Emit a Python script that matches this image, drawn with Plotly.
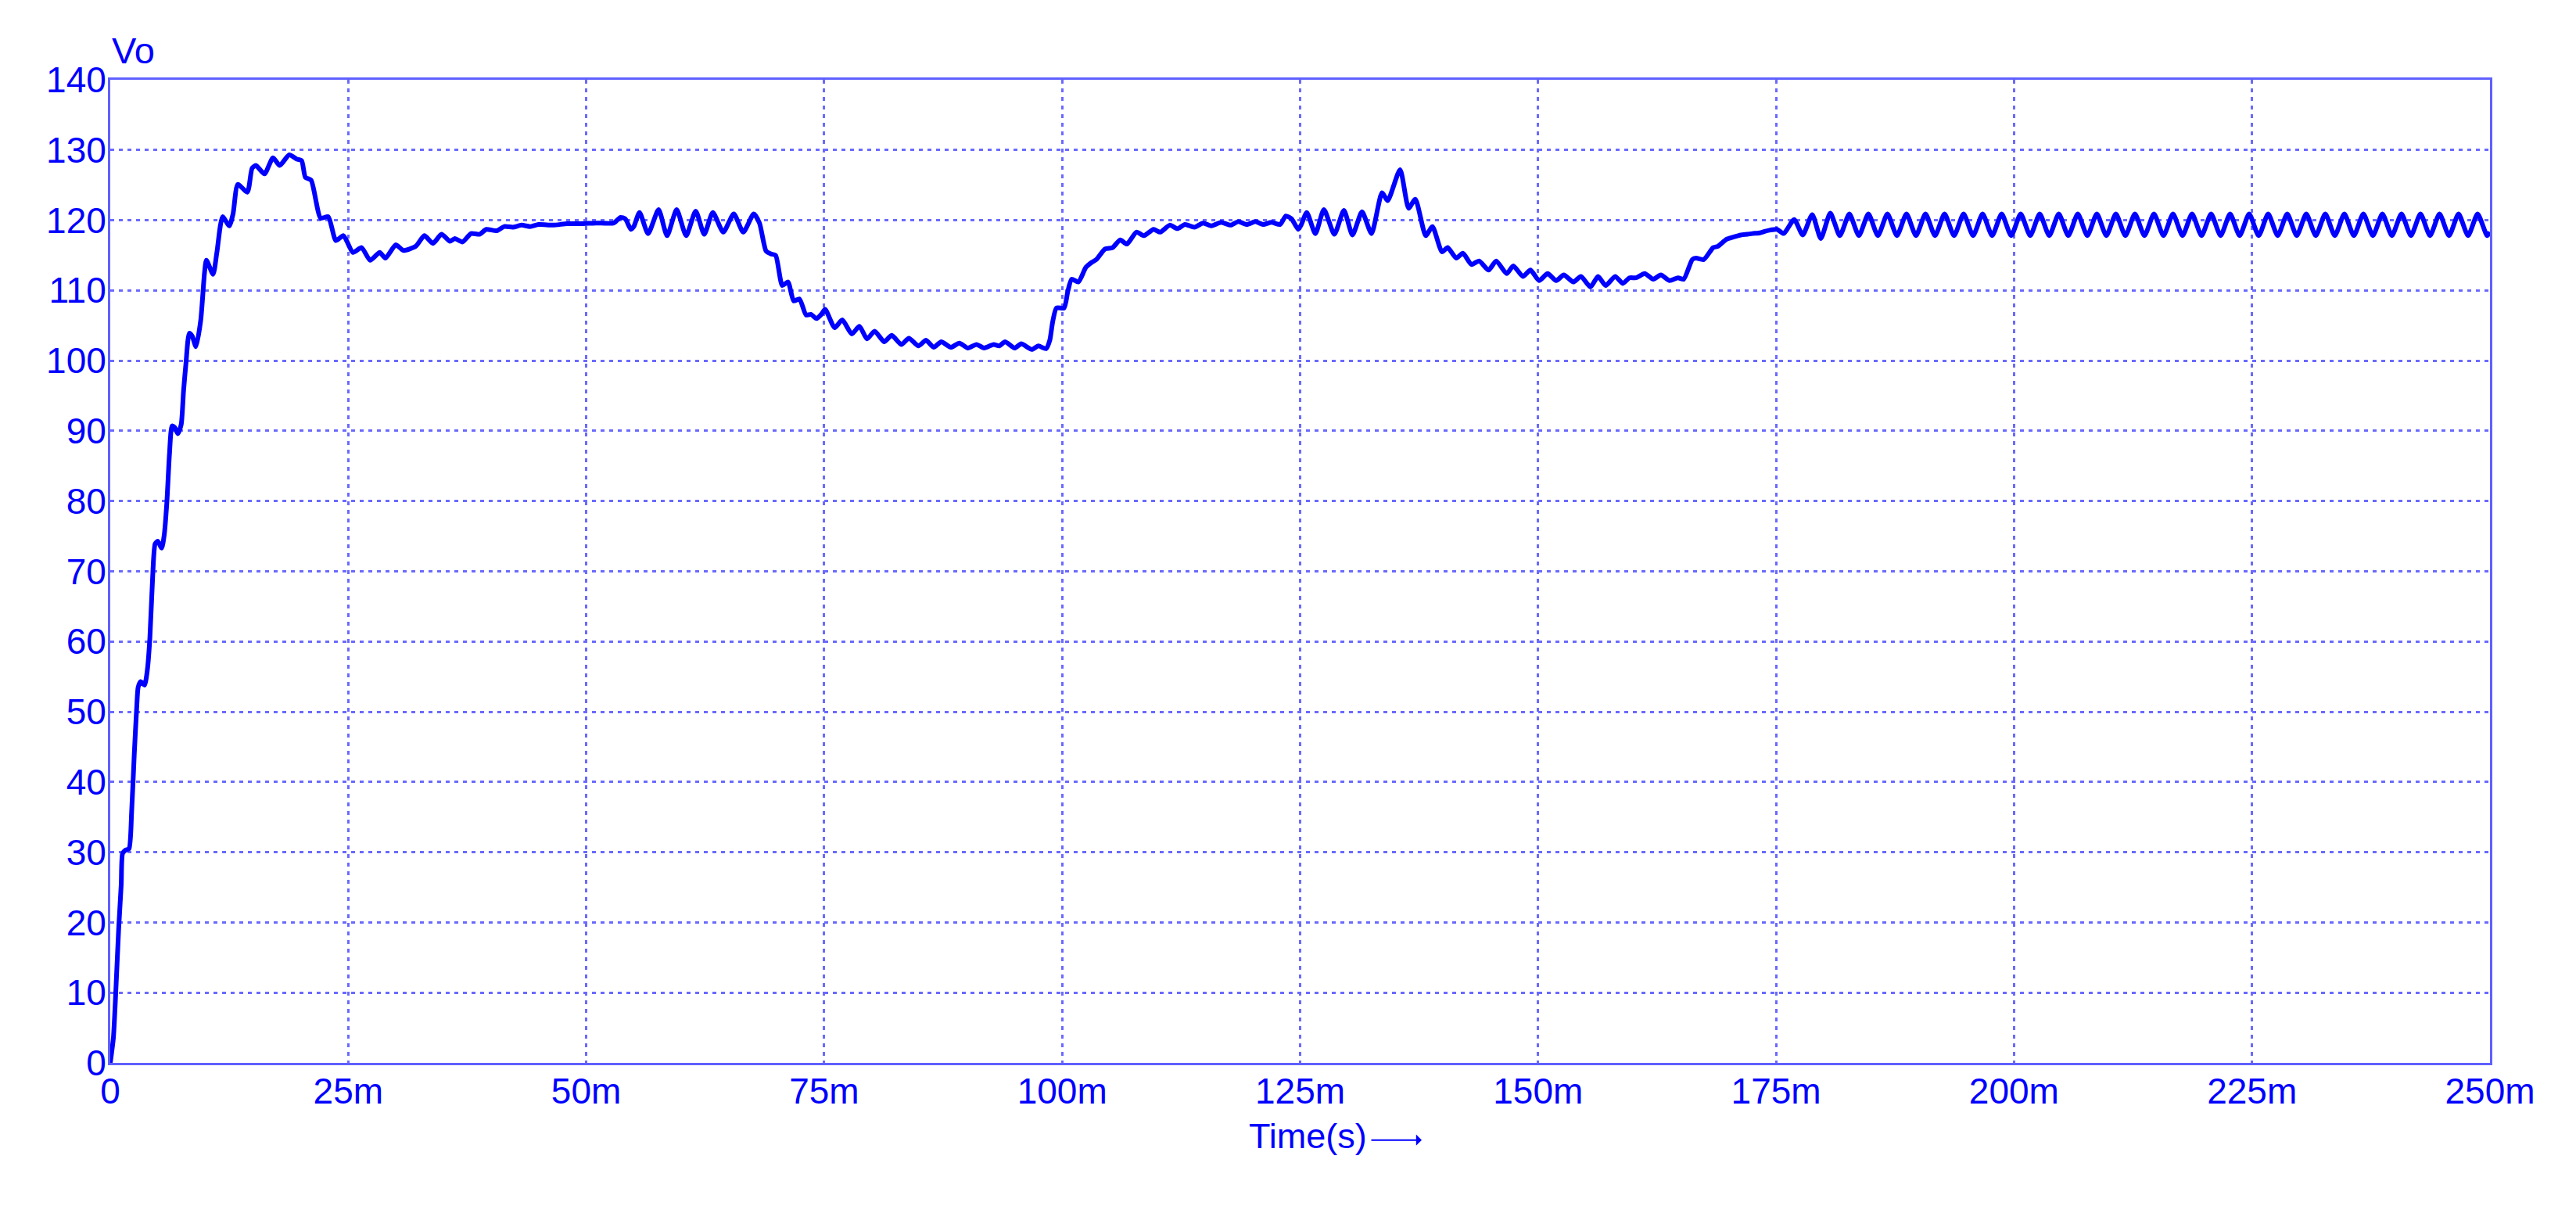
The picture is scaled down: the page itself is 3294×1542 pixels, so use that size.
import plotly.graph_objects as go

# Vo waveform, time in ms
t_ms = [0, 0.33, 0.6, 0.88, 1.15, 1.29, 1.6, 1.97, 2.24, 2.52, 2.79, 2.93, 3.2, 3.6, 3.9, 4.16, 4.44, 4.71, 4.99,
        5.4, 5.67, 5.94, 6.22, 6.49, 6.76, 7.1, 7.45, 7.7, 7.95, 8.3, 8.6, 9.0, 9.5, 9.9, 10.1, 10.8, 11.2, 11.8,
        12.5, 12.9, 13.4, 14.4, 14.9, 15.3, 16.2, 17.1, 17.8, 18.8, 19.6, 20.1, 20.5, 21.1, 22.1, 22.9, 23.7, 24.5,
        25.5, 26.4, 27.3, 28.3, 28.9, 30.0, 30.8, 32.1, 33.0, 33.9, 34.8, 35.7, 36.2, 37.0, 37.9, 38.8, 39.5, 40.6,
        41.4, 42.3, 43.2, 44.1, 45.0, 46.5, 48.0, 49.5, 51.0, 52.9, 53.6, 54.1, 54.7, 55.0, 55.6, 56.5, 57.6, 58.5,
        59.5, 60.5, 61.5, 62.4, 63.3, 64.4, 65.5, 66.5, 67.6, 68.2, 68.9, 69.4, 69.9, 70.6, 71.2, 71.8, 72.4, 73.1,
        73.6, 74.2, 74.7, 75.1, 76.1, 76.9, 77.9, 78.7, 79.5, 80.3, 81.3, 82.1, 83.1, 83.9, 84.9, 85.7, 86.5, 87.3,
        88.3, 89.2, 90.1, 91.0, 91.8, 92.8, 93.4, 94.0, 95.0, 95.7, 96.8, 97.5, 98.3, 98.7, 99.0, 99.4, 100.2,
        100.6, 101.0, 101.7, 102.5, 103.1, 103.6, 104.5, 105.3, 106.1, 106.8, 107.8, 108.6, 109.6, 110.3, 111.3,
        112.1, 112.9, 113.9, 114.8, 115.7, 116.7, 117.7, 118.5, 119.4, 120.3, 121.1, 122.0, 122.9, 123.5, 124.1,
        124.8, 125.1, 125.7, 126.6, 127.5, 128.6, 129.6, 130.5, 131.5, 132.5, 133.6, 134.2, 135.5, 136.4, 137.1,
        138.2, 138.9, 139.9, 140.5, 141.4, 142.1, 143.0, 143.8, 144.8, 145.6, 146.7, 147.4, 148.4, 149.2, 150.1,
        151.0, 151.9, 152.7, 153.7, 154.5, 155.5, 156.3, 157.1, 158.1, 158.9, 159.6, 160.3, 161.2, 162.1, 162.9,
        163.8, 164.7, 165.3, 166.2, 166.6, 167.4, 168.4, 168.9, 169.8, 170.5, 171.3, 172.0, 172.5, 173.3, 173.8,
        174.4, 175.1, 175.8, 176.9, 177.8, 178.8, 179.7,
        180.7, 181.7, 182.7, 183.7, 184.7, 185.7, 186.7, 187.7, 188.7, 189.7, 190.7, 191.7, 192.7, 193.7, 194.7,
        195.7, 196.7, 197.7, 198.7, 199.7, 200.7, 201.7, 202.7, 203.7, 204.7, 205.7, 206.7, 207.7, 208.7, 209.7,
        210.7, 211.7, 212.7, 213.7, 214.7, 215.7, 216.7, 217.7, 218.7, 219.7, 220.7, 221.7, 222.7, 223.7, 224.7,
        225.7, 226.7, 227.7, 228.7, 229.7, 230.7, 231.7, 232.7, 233.7, 234.7, 235.7, 236.7, 237.7, 238.7, 239.7,
        240.7, 241.7, 242.7, 243.7, 244.7, 245.7, 246.7, 247.7, 248.7, 249.7, 250.0]

vo = [0, 3.6, 10.7, 19.0, 25.4, 29.8, 30.3, 30.5, 35.6, 43.9, 50.9, 53.5, 54.3, 53.8, 56.0, 60.5, 68.8, 73.9, 74.3,
      73.3, 75.2, 79.7, 86.7, 90.7, 90.5, 89.6, 90.9, 95.7, 99.6, 103.9, 103.5, 102.0, 105.7, 112.5, 114.3, 112.3,
      115.4, 120.5, 119.2, 120.9, 125.1, 124.0, 127.4, 127.8, 126.6, 128.9, 127.8, 129.3, 128.7, 128.5, 126.1,
      125.7, 120.3, 120.5, 117.1, 117.8, 115.4, 116.1, 114.3, 115.4, 114.6, 116.5, 115.7, 116.3, 117.8, 116.7,
      118.0, 117.0, 117.4, 116.9, 118.1, 118.0, 118.7, 118.5, 119.1, 119.0, 119.3, 119.1, 119.4, 119.3, 119.5,
      119.5, 119.6, 119.6, 120.4, 120.2, 118.7, 119.1, 121.1, 118.1, 121.5, 117.8, 121.5, 117.8, 121.3, 118.0,
      121.1, 118.3, 120.9, 118.3, 120.9, 119.6, 115.6, 115.2, 115.0, 110.7, 111.2, 108.5, 108.8, 106.5, 106.6,
      106.0, 106.6, 107.3, 104.7, 105.8, 103.8, 104.9, 103.1, 104.2, 102.7, 103.6, 102.3, 103.2, 102.1, 102.9,
      101.9, 102.7, 101.9, 102.5, 101.8, 102.3, 101.8, 102.3, 102.1, 102.7, 101.8, 102.4, 101.6, 102.1, 101.7,
      102.9, 105.5, 107.5, 107.5, 109.9, 111.6, 111.2, 113.3, 114.0, 114.4, 115.9, 116.1, 117.2, 116.6, 118.3,
      117.8, 118.7, 118.3, 119.3, 118.8, 119.4, 119.0, 119.6, 119.2, 119.7, 119.3, 119.8, 119.4, 119.8, 119.4,
      119.7, 119.4, 120.6, 120.2, 118.7, 119.3, 121.1, 118.1, 121.5, 118.0, 121.4, 117.9, 121.2, 118.1, 123.9,
      122.8, 127.2, 121.7, 123.0, 117.8, 119.1, 115.5, 116.1, 114.6, 115.3, 113.7, 114.2, 112.9, 114.2, 112.4,
      113.5, 112.0, 112.9, 111.4, 112.4, 111.4, 112.2, 111.2, 112.0, 110.5, 112.0, 110.7, 112.0, 111.0, 111.8,
      111.8, 112.4, 111.6, 112.2, 111.4, 111.8, 111.6, 114.4, 114.6, 114.4, 116.1, 116.3, 117.3, 117.6, 117.9,
      118.0, 118.1, 118.2, 118.4, 118.6, 118.7, 118.1, 120.1, 117.9, 120.8, 117.4,
      121.0, 117.8, 120.9, 117.8, 120.9, 117.8, 120.9, 117.8, 120.9, 117.8, 120.9, 117.8, 120.9, 117.8, 120.9,
      117.8, 120.9, 117.8, 120.9, 117.8, 120.9, 117.8, 120.9, 117.8, 120.9, 117.8, 120.9, 117.8, 120.9, 117.8,
      120.9, 117.8, 120.9, 117.8, 120.9, 117.8, 120.9, 117.8, 120.9, 117.8, 120.9, 117.8, 120.9, 117.8, 120.9,
      117.8, 120.9, 117.8, 120.9, 117.8, 120.9, 117.8, 120.9, 117.8, 120.9, 117.8, 120.9, 117.8, 120.9, 117.8,
      120.9, 117.8, 120.9, 117.8, 120.9, 117.8, 120.9, 117.8, 120.9, 117.8, 118.3]

x_ticks = [0, 25, 50, 75, 100, 125, 150, 175, 200, 225, 250]
x_labels = ['0', '25m', '50m', '75m', '100m', '125m', '150m', '175m', '200m', '225m', '250m']
y_ticks = [0, 10, 20, 30, 40, 50, 60, 70, 80, 90, 100, 110, 120, 130, 140]

blue = '#0000ff'
grid_col = '#6a6aff'
axis_col = '#6060ff'
fnt = dict(family='Liberation Sans, Arial, sans-serif', size=46, color=blue)

fig = go.Figure()
fig.add_trace(go.Scatter(x=t_ms, y=vo, mode='lines',
                         line=dict(color=blue, width=6, shape='spline', smoothing=0.6),
                         showlegend=False))

fig.update_xaxes(range=[0, 250], tickvals=x_ticks, ticktext=x_labels, tickfont=fnt,
                 showgrid=True, gridcolor=grid_col, gridwidth=2.5, griddash='5px,6px',
                 showline=True, linecolor=axis_col, linewidth=3, mirror=True,
                 zeroline=False, ticks='', ticklabelstandoff=-6)
fig.update_yaxes(range=[0, 140], tickvals=y_ticks, tickfont=fnt,
                 showgrid=True, gridcolor=grid_col, gridwidth=2.5, griddash='5px,6px',
                 showline=True, linecolor=axis_col, linewidth=3, mirror=True,
                 zeroline=False, ticks='', ticklabelstandoff=-7)

fig.update_layout(
    width=3294, height=1542,
    margin=dict(l=133, r=118, t=94, b=191),
    plot_bgcolor='white', paper_bgcolor='white',
    font=fnt,
    annotations=[
        dict(text='Vo', x=0.0, y=1.0298, xref='paper', yref='paper', xanchor='left', yanchor='middle',
             showarrow=False, font=dict(family=fnt['family'], size=47, color=blue)),
        dict(text='Time(s)', x=0.5288, y=-0.074, xref='paper', yref='paper', xanchor='right', yanchor='middle',
             showarrow=False, font=dict(family=fnt['family'], size=45, color=blue)),
        dict(text='', x=0.5511, y=-0.0785, xref='paper', yref='paper', ax=-66, ay=0,
             showarrow=True, arrowhead=1, arrowsize=1.2, arrowwidth=2, arrowcolor=blue),
    ],
)

fig.write_html("out.html")
